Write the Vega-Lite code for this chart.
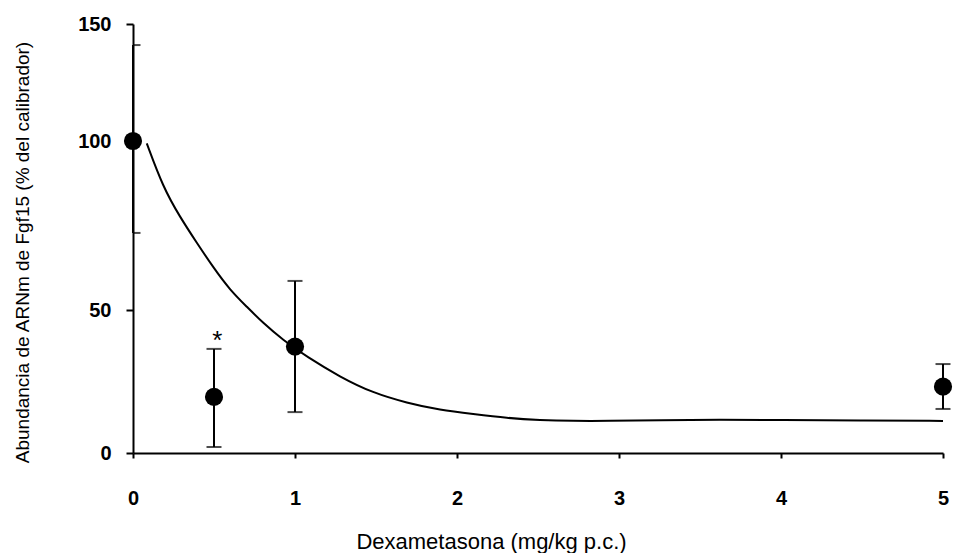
{
  "$schema": "https://vega.github.io/schema/vega-lite/v6.json",
  "autosize": {"type": "none"},
  "padding": {"left": 133, "top": 24, "right": 15, "bottom": 100},
  "width": 810,
  "height": 429,
  "background": "white",
  "config": {
    "view": {"stroke": null},
    "font": "Liberation Sans",
    "axis": {
      "grid": false,
      "domainColor": "#000",
      "tickColor": "#000",
      "labelColor": "#000",
      "titleColor": "#000",
      "domainWidth": 2,
      "tickWidth": 2,
      "labelFont": "Liberation Sans",
      "titleFont": "Liberation Sans",
      "labelFlush": false,
      "labelOverlap": false
    }
  },
  "datasets": {
    "means": [
      {"dose": 0, "mean": 100, "lo": 72.8, "hi": 141.0},
      {"dose": 0.5, "mean": 19.6, "lo": 2.1, "hi": 36.4},
      {"dose": 1, "mean": 37.2, "lo": 14.3, "hi": 58.6},
      {"dose": 5, "mean": 23.2, "lo": 15.4, "hi": 31.1}
    ],
    "fit": [
      {"dose": 0.085, "value": 99.3},
      {"dose": 0.185, "value": 86.4},
      {"dose": 0.29, "value": 77.5},
      {"dose": 0.395, "value": 69.8},
      {"dose": 0.494, "value": 62.7},
      {"dose": 0.599, "value": 55.9},
      {"dose": 0.704, "value": 50.9},
      {"dose": 0.802, "value": 45.5},
      {"dose": 0.926, "value": 39.5},
      {"dose": 1.074, "value": 33.6},
      {"dose": 1.278, "value": 26.6},
      {"dose": 1.481, "value": 21.0},
      {"dose": 1.691, "value": 17.5},
      {"dose": 1.895, "value": 15.0},
      {"dose": 2.099, "value": 13.6},
      {"dose": 2.309, "value": 12.2},
      {"dose": 2.512, "value": 11.5},
      {"dose": 2.716, "value": 11.2},
      {"dose": 2.926, "value": 11.2},
      {"dose": 3.253, "value": 11.5},
      {"dose": 3.62, "value": 11.7},
      {"dose": 4.0, "value": 11.5},
      {"dose": 4.49, "value": 11.4},
      {"dose": 5.0, "value": 11.2}
    ],
    "marks": [
      {"dose": 0.52, "value": 36.4, "label": "*"}
    ]
  },
  "encoding": {
    "x": {
      "field": "dose",
      "type": "quantitative",
      "scale": {"domain": [0, 5], "nice": false, "zero": false},
      "axis": {
        "values": [0, 1, 2, 3, 4, 5],
        "tickSize": 5,
        "labelPadding": 30,
        "labelFontSize": 20,
        "labelFontWeight": "bold",
        "title": "Dexametasona (mg/kg p.c.)",
        "titleFontSize": 22,
        "titleFontWeight": "normal",
        "titleX": 358,
        "titleY": 95,
        "titleAlign": "center",
        "titleBaseline": "alphabetic"
      }
    }
  },
  "layer": [
    {
      "data": {"name": "fit"},
      "mark": {"type": "line", "color": "#000", "strokeWidth": 2, "interpolate": "basis"},
      "encoding": {
        "y": {
          "field": "value",
          "type": "quantitative",
          "title": "Abundancia de ARNm de Fgf15 (% del calibrador)",
          "scale": {"domain": [0, 50, 100, 150], "range": [429, 286, 117, 0], "nice": false, "zero": false},
          "axis": {
            "values": [0, 50, 100, 150],
            "tickSize": 7,
            "labelPadding": 15,
            "labelFontSize": 20,
            "labelFontWeight": "bold",
            "titleFontSize": 19,
            "titleFontWeight": "normal",
            "titleAngle": -90,
            "titleX": -111,
            "titleY": 228,
            "titleAlign": "center",
            "titleBaseline": "middle"
          }
        }
      }
    },
    {
      "data": {"name": "means"},
      "mark": {"type": "rule", "color": "#000", "strokeWidth": 2},
      "encoding": {
        "y": {"field": "lo", "type": "quantitative", "title": "Abundancia de ARNm de Fgf15 (% del calibrador)", "scale": {"domain": [0, 50, 100, 150], "range": [429, 286, 117, 0], "nice": false, "zero": false}},
        "y2": {"field": "hi"}
      }
    },
    {
      "data": {"name": "means"},
      "transform": [{"filter": "datum.dose > 0"}, {"fold": ["lo", "hi"], "as": ["end", "bound"]}],
      "mark": {"type": "tick", "orient": "horizontal", "size": 15, "thickness": 2, "color": "#000"},
      "encoding": {
        "y": {"field": "bound", "type": "quantitative", "title": "Abundancia de ARNm de Fgf15 (% del calibrador)", "scale": {"domain": [0, 50, 100, 150], "range": [429, 286, 117, 0], "nice": false, "zero": false}}
      }
    },
    {
      "data": {"name": "means"},
      "transform": [{"filter": "datum.dose == 0"}, {"fold": ["lo", "hi"], "as": ["end", "bound"]}],
      "mark": {"type": "tick", "orient": "horizontal", "size": 15, "thickness": 2, "color": "#000", "clip": true},
      "encoding": {
        "y": {"field": "bound", "type": "quantitative", "title": "Abundancia de ARNm de Fgf15 (% del calibrador)", "scale": {"domain": [0, 50, 100, 150], "range": [429, 286, 117, 0], "nice": false, "zero": false}}
      }
    },
    {
      "data": {"name": "means"},
      "mark": {"type": "circle", "color": "#000", "opacity": 1, "size": 330},
      "encoding": {
        "y": {"field": "mean", "type": "quantitative", "title": "Abundancia de ARNm de Fgf15 (% del calibrador)", "scale": {"domain": [0, 50, 100, 150], "range": [429, 286, 117, 0], "nice": false, "zero": false}}
      }
    },
    {
      "data": {"name": "marks"},
      "mark": {"type": "text", "color": "#000", "fontSize": 26, "baseline": "alphabetic", "align": "center", "font": "Liberation Sans"},
      "encoding": {
        "y": {"field": "value", "type": "quantitative", "title": "Abundancia de ARNm de Fgf15 (% del calibrador)", "scale": {"domain": [0, 50, 100, 150], "range": [429, 286, 117, 0], "nice": false, "zero": false}},
        "text": {"field": "label"}
      }
    }
  ]
}
